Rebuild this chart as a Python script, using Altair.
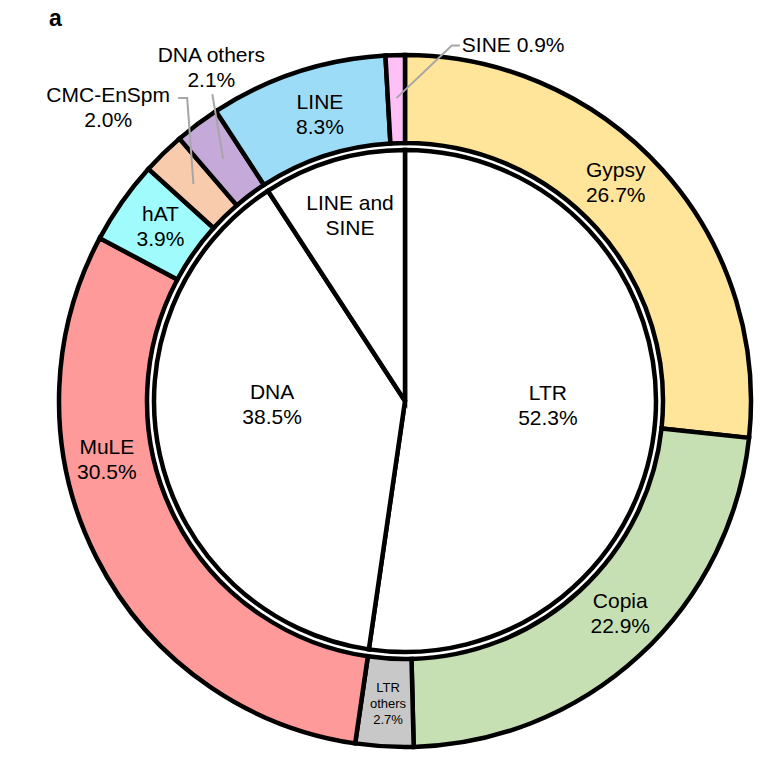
import math
import altair as alt
import pandas as pd

# ---------------- data ----------------
outer_names = ["Gypsy", "Copia", "LTR others", "MuLE", "hAT", "CMC-EnSpm", "DNA others", "LINE", "SINE"]
outer_values = [26.7, 22.9, 2.7, 30.5, 3.9, 2.0, 2.1, 8.3, 0.9]
outer_colors = ["#FFE599", "#C6E0B4", "#C8C8C8", "#FF9A9A", "#A0FCFC", "#F8CBAD", "#C5A9D8", "#9DDCF6", "#FFC0F8"]

inner_names = ["LTR", "DNA", "LINE and SINE"]
inner_values = [52.3, 38.5, 9.2]

panel_letter = "a"

# ---------------- layout ----------------
W, H = 777, 784
CX, CY = 405, 401
R_OUT, R_RING_IN, R_PIE = 346, 258, 251
FONT = "Liberation Sans"
BIG_FS, BIG_LH, SMALL_LH = 21, 25, 16

# label placement: (angle shift from slice middle in degrees, radius px)
outer_label_layout = {
    "Gypsy": (-4.0, 303), "Copia": (-2.6, 303), "LTR others": (-0.2, 303),
    "MuLE": (15.6, 304), "hAT": (0.3, 300), "CMC-EnSpm": (-1.1, 417),
    "DNA others": (6.7, 385), "LINE": (1.6, 298), "SINE": (10.7, 360),
}
inner_label_layout = {"LTR": (-2.1, 143), "DNA": (10.4, 133), "LINE and SINE": (0.0, 193)}
# leader lines: offsets from label anchor for the label-side points
leader_layout = {
    "CMC-EnSpm": [(70, -10), (79, -10)],
    "DNA others": [(1, 26)],
    "SINE": [(-2, 0), (-10, 0)],
}


def mid_angles(values):
    tot = sum(values)
    out, acc = [], 0.0
    for v in values:
        out.append((acc + v / 2) / tot * 360.0)
        acc += v
    return out


def polar(angle_deg, r):
    a = math.radians(angle_deg)
    return CX + r * math.sin(a), CY - r * math.cos(a)


def first_line_y(yc, text, lh):
    n = text.count("\n") + 1
    return yc - (n - 1) * lh / 2


outer_mid = mid_angles(outer_values)
inner_mid = mid_angles(inner_values)

outer_df = pd.DataFrame({"name": outer_names, "value": outer_values, "k": range(len(outer_names))})
inner_df = pd.DataFrame({"name": inner_names, "value": inner_values, "k": range(len(inner_names))})

# labels
big_rows, small_rows, left_rows, leader_rows = [], [], [], []
for name, val, mid in zip(outer_names, outer_values, outer_mid):
    shift, r = outer_label_layout[name]
    x, y = polar(mid + shift, r)
    if name == "SINE":
        left_rows.append({"x": x, "y": y, "t": f"{name} {val}%"})
    elif name == "LTR others":
        t = f"LTR\nothers\n{val}%"
        small_rows.append({"x": x, "y": first_line_y(y, t, SMALL_LH), "t": t})
    else:
        t = f"{name}\n{val}%"
        big_rows.append({"x": x, "y": first_line_y(y, t, BIG_LH), "t": t})
    if name in leader_layout:
        pts = [(x + dx, y + dy) for dx, dy in leader_layout[name]]
        pts.append(polar(mid, 303))
        for i, (px, py) in enumerate(pts):
            leader_rows.append({"id": name, "k": i, "x": px, "y": py})

for name, val, mid in zip(inner_names, inner_values, inner_mid):
    shift, r = inner_label_layout[name]
    x, y = polar(mid + shift, r)
    t = "LINE and\nSINE" if name == "LINE and SINE" else f"{name}\n{val}%"
    big_rows.append({"x": x, "y": first_line_y(y, t, BIG_LH), "t": t})

xs = dict(scale=None, axis=None)

ring = alt.Chart(outer_df).mark_arc(
    outerRadius=R_OUT, innerRadius=R_RING_IN, stroke="black", strokeWidth=4.5
).encode(
    theta=alt.Theta("value:Q", stack=True),
    order=alt.Order("k:Q", sort="ascending"),
    color=alt.Color("name:N", scale=alt.Scale(domain=outer_names, range=outer_colors), legend=None),
    x=alt.value(CX), y=alt.value(CY),
)

pie = alt.Chart(inner_df).mark_arc(
    outerRadius=R_PIE, innerRadius=0, stroke="black", strokeWidth=4.5, fill="white"
).encode(
    theta=alt.Theta("value:Q", stack=True),
    order=alt.Order("k:Q", sort="ascending"),
    x=alt.value(CX), y=alt.value(CY),
)

leaders = alt.Chart(pd.DataFrame(leader_rows)).mark_line(color="#A6A6A6", strokeWidth=2).encode(
    x=alt.X("x:Q", **xs), y=alt.Y("y:Q", **xs), detail="id:N", order="k:Q"
)

big = alt.Chart(pd.DataFrame(big_rows)).mark_text(
    font=FONT, fontSize=BIG_FS, lineHeight=BIG_LH, lineBreak="\n", align="center", baseline="middle", color="black"
).encode(x=alt.X("x:Q", **xs), y=alt.Y("y:Q", **xs), text="t:N")

small = alt.Chart(pd.DataFrame(small_rows)).mark_text(
    font=FONT, fontSize=13, lineHeight=SMALL_LH, lineBreak="\n", align="center", baseline="middle", color="black"
).encode(x=alt.X("x:Q", **xs), y=alt.Y("y:Q", **xs), text="t:N")

left = alt.Chart(pd.DataFrame(left_rows)).mark_text(
    font=FONT, fontSize=BIG_FS, align="left", baseline="middle", color="black"
).encode(x=alt.X("x:Q", **xs), y=alt.Y("y:Q", **xs), text="t:N")

letter = alt.Chart(pd.DataFrame({"t": [panel_letter]})).mark_text(
    font=FONT, fontSize=23, fontWeight="bold", align="left", baseline="alphabetic", color="black"
).encode(x=alt.value(49), y=alt.value(26), text="t:N")

chart = alt.layer(ring, pie, leaders, big, small, left, letter).properties(
    width=W, height=H, autosize=alt.AutoSizeParams(type="none"), padding=0, background="white"
).configure_view(stroke=None)

chart.save("out.html", embed_options={"renderer": "svg", "actions": False})
